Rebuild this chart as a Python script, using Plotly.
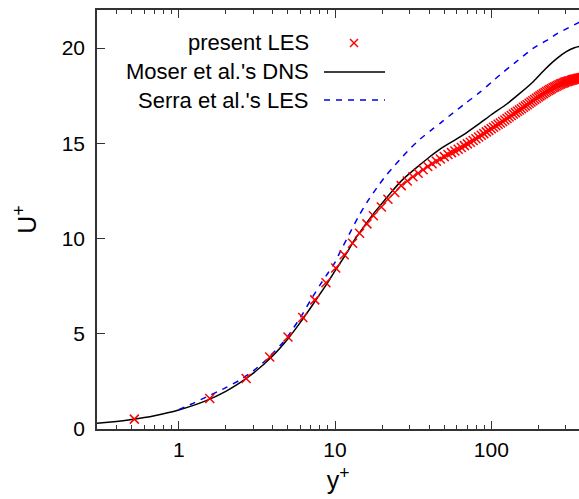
import plotly.graph_objects as go
import numpy as np

# ---- data ----
les_yplus = [0.52, 1.58, 2.70, 3.82, 5.00, 6.22, 7.42, 8.75, 10.1, 11.45, 12.95, 14.35, 16.0, 17.6, 19.8, 21.8, 24.1,
             26.5, 29.0, 31.5, 34.0, 36.6, 39.2, 41.8, 44.5, 47.2, 50.0, 52.8, 55.6, 58.5, 61.4, 64.3, 67.3, 70.3,
             73.4, 76.5, 79.7, 82.9, 86.2, 89.5, 92.9, 96.3, 99.8, 103.3, 106.9, 110.6, 114.3, 118.1, 122.0, 126.0,
             130.0, 134.1, 138.3, 142.6, 146.9, 151.3, 155.8, 160.4, 165.0, 169.7, 174.5, 179.4, 184.3, 189.3,
             194.4, 199.5, 204.7, 210.0, 215.3, 220.7, 226.1, 231.6, 237.1, 242.7, 248.3, 254.0, 259.7, 265.4,
             271.2, 277.0, 282.8, 288.7, 294.6, 300.5, 306.4, 312.3, 318.3, 324.3, 330.3, 336.3, 342.3, 348.3,
             354.3, 360.3, 366.3, 372.3, 378.3, 384.3, 390.3, 395.0]
les_uplus = [0.52, 1.60, 2.65, 3.78, 4.83, 5.85, 6.78, 7.68, 8.45, 9.15, 9.75, 10.28, 10.77, 11.2, 11.66, 12.06, 12.42,
             12.78, 13.02, 13.24, 13.43, 13.61, 13.78, 13.93, 14.06, 14.18, 14.30, 14.41, 14.51, 14.60, 14.69, 14.78,
             14.88, 14.97, 15.06, 15.15, 15.24, 15.33, 15.42, 15.51, 15.60, 15.68, 15.76, 15.84, 15.92, 16.00, 16.07,
             16.15, 16.22, 16.30, 16.38, 16.46, 16.54, 16.61, 16.68, 16.75, 16.82, 16.89, 16.96, 17.03, 17.10, 17.17,
             17.24, 17.30, 17.37, 17.43, 17.49, 17.55, 17.61, 17.67, 17.72, 17.77, 17.82, 17.87, 17.92, 17.96, 18.00,
             18.04, 18.08, 18.11, 18.14, 18.17, 18.20, 18.23, 18.25, 18.27, 18.29, 18.31, 18.33, 18.35, 18.37, 18.38,
             18.40, 18.41, 18.42, 18.43, 18.44, 18.45, 18.46, 18.46]

dns_yplus = [0.3, 0.4, 0.5, 0.7, 1.0, 1.5, 2.0, 2.5, 3.0, 4.0, 5.0, 6.0, 7.0, 8.0, 9.0, 10.0, 11.0, 12.0, 13.0, 14.0,
             16.0, 18.0, 20.0, 23.0, 26.0, 30.0, 35.0, 40.0, 47.0, 57.0, 70.0, 85.0, 100.0, 125.0, 150.0, 186.0,
             220.0, 262.0, 300.0, 340.0, 370.0, 395.0]
dns_uplus = [0.30, 0.40, 0.50, 0.70, 1.00, 1.49, 1.98, 2.46, 2.93, 3.85, 4.74, 5.60, 6.38, 7.08, 7.70, 8.30, 8.82,
             9.30, 9.80, 10.18, 10.85, 11.40, 11.85, 12.45, 12.95, 13.42, 13.88, 14.27, 14.70, 15.12, 15.58, 16.07,
             16.50, 17.05, 17.58, 18.25, 18.88, 19.45, 19.80, 20.02, 20.10, 20.13]

serra_yplus = [1.0, 1.2, 1.5, 2.0, 2.5, 3.0, 3.65, 4.5, 5.0, 6.0, 7.0, 8.0, 9.0, 10.0, 11.0, 12.2, 14.0, 16.0, 19.0,
               21.4, 23.6, 26.0, 30.0, 35.0, 42.6, 47.0, 57.0, 69.6, 85.0, 100.0, 113.7, 140.0, 186.0, 231.0, 262.0,
               300.0, 364.0, 395.0]
serra_uplus = [1.02, 1.30, 1.68, 2.17, 2.60, 3.05, 3.65, 4.42, 4.88, 5.85, 6.78, 7.55, 8.18, 8.75, 9.45, 10.15,
               11.10, 11.90, 12.80, 13.35, 13.75, 14.15, 14.70, 15.22, 15.78, 16.05, 16.60, 17.15, 17.70, 18.20,
               18.60, 19.20, 20.00, 20.45, 20.75, 21.00, 21.35, 21.50]

legend_names = ["present LES", "Moser et al.'s DNS", "Serra et al.'s LES"]
x_major = [1, 10, 100]
x_minor = [0.3, 0.4, 0.5, 0.6, 0.7, 0.8, 0.9, 2, 3, 4, 5, 6, 7, 8, 9,
           20, 30, 40, 50, 60, 70, 80, 90, 200, 300, 400]
y_ticks = [0, 5, 10, 15, 20]

FONT = "Liberation Sans, Arial, sans-serif"
W, H = 579, 499
ML, MR, MT, MB = 97, 0, 10, 70
PX_PER_DECADE = 156.3
x0 = np.log10(0.3)
x1 = x0 + (W - ML - MR) / PX_PER_DECADE

fig = go.Figure()
fig.add_trace(go.Scatter(x=dns_yplus, y=dns_uplus, mode="lines", name=legend_names[1],
                         line=dict(color="black", width=1.5, shape="spline", smoothing=0.5), showlegend=False))
fig.add_trace(go.Scatter(x=serra_yplus, y=serra_uplus, mode="lines", name=legend_names[2],
                         line=dict(color="#0000ee", width=1.5, dash="6px,6px", shape="spline", smoothing=0.5),
                         showlegend=False))
fig.add_trace(go.Scatter(x=les_yplus, y=les_uplus, mode="markers", name=legend_names[0],
                         marker=dict(symbol="x-thin", size=9, line=dict(color="#ff0000", width=1.5)),
                         showlegend=False))

# manual gnuplot-style legend (text right, sample left)
pw, ph = W - ML - MR, H - MT - MB
def px(xp):
    return (xp - ML) / pw
def py(yp):
    return (H - MB - yp) / ph

rows = [43, 72, 100]
for name, yr in zip(legend_names, rows):
    fig.add_annotation(x=px(311), y=py(yr), xref="paper", yref="paper", text=name, showarrow=False,
                       xanchor="right", yanchor="middle", font=dict(size=22, color="black", family=FONT))
# sample marks
cx, cy, d = 354, rows[0], 4
fig.add_shape(type="line", xref="paper", yref="paper", x0=px(cx - d), x1=px(cx + d), y0=py(cy - d), y1=py(cy + d),
              line=dict(color="#ff0000", width=1.5))
fig.add_shape(type="line", xref="paper", yref="paper", x0=px(cx - d), x1=px(cx + d), y0=py(cy + d), y1=py(cy - d),
              line=dict(color="#ff0000", width=1.5))
fig.add_shape(type="line", xref="paper", yref="paper", x0=px(324), x1=px(385), y0=py(rows[1]), y1=py(rows[1]),
              line=dict(color="black", width=1.5))
fig.add_shape(type="line", xref="paper", yref="paper", x0=px(324), x1=px(385), y0=py(rows[2]), y1=py(rows[2]),
              line=dict(color="#0000ee", width=1.5, dash="6px,6px"))

fig.update_layout(
    width=W, height=H, margin=dict(l=ML, r=MR, t=MT, b=MB),
    paper_bgcolor="white", plot_bgcolor="white",
    font=dict(family=FONT, size=21, color="black"),
    showlegend=False,
)
fig.update_xaxes(type="log", range=[x0, x1], tickmode="array", tickvals=x_major,
                 ticktext=[str(v) for v in x_major], ticks="inside", ticklen=8, tickwidth=1.2, tickcolor="#333",
                 showline=True, linecolor="#333", linewidth=1.5, mirror="ticks", showgrid=False, zeroline=False,
                 minor=dict(tickvals=x_minor, ticks="inside", ticklen=4, tickwidth=1.2, tickcolor="#333", showgrid=False),
                 title=dict(text="y<sup>+</sup>", standoff=12), ticklabelstandoff=1)
fig.update_yaxes(range=[0, 22], tickmode="array", tickvals=y_ticks, ticktext=[str(v) for v in y_ticks],
                 ticks="inside", ticklen=8, tickwidth=1.2, tickcolor="#333",
                 showline=True, linecolor="#333", linewidth=1.5, mirror=False, showgrid=False, zeroline=False,
                 title=dict(text="U<sup>+</sup>", standoff=18), ticklabelstandoff=6)

fig.write_html("out.html")
